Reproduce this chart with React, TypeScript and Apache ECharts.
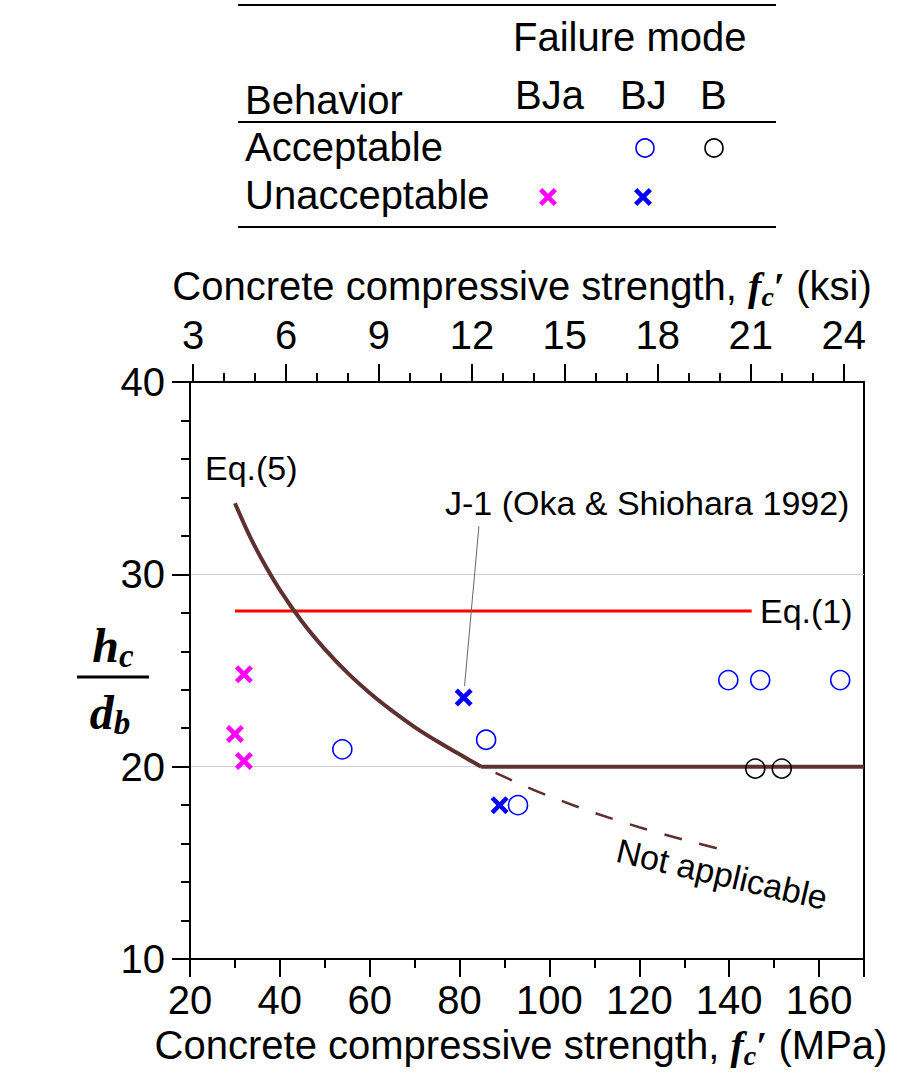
import React, { useEffect, useRef } from 'react';
import * as echarts from 'echarts';

// ---- data ----
const MPA_PER_KSI = 6.895;
const ksiMajorTicks = [3, 6, 9, 12, 15, 18, 21, 24];
const ksiMinorTicks = [3, 4, 5, 6, 7, 8, 9, 10, 11, 12, 13, 14, 15, 16, 17, 18, 19, 20, 21, 22, 23, 24];

const bjaUnacceptable = [[30.0, 21.7], [32.0, 24.8], [32.0, 20.3]];
const bjUnacceptable = [[80.9, 23.6], [88.9, 18.0]];
const bjAcceptable = [[53.9, 20.9], [85.9, 21.4], [93.0, 18.0], [139.8, 24.5], [146.9, 24.5], [164.7, 24.5]];
const bAcceptable = [[145.8, 19.9], [151.7, 19.9]];

const eq5Curve = [
  [30, 33.7], [33, 32.13], [36, 30.77], [40, 29.19], [45, 27.52], [50, 26.11], [55, 24.89],
  [60, 23.83], [65, 22.9], [70, 22.06], [75, 21.32], [80, 20.64], [84.8, 20.0],
];
const eq5Plateau = [[84.8, 20.0], [170, 20.0]];
const eq5NotApplicable = [[88, 19.68], [95, 18.94], [100, 18.46], [110, 17.6], [120, 16.85], [130, 16.19], [140.7, 15.56]];
const eq1Line = [[30, 28.1], [145, 28.1]];
const j1Leader = [[84.3, 32.5], [81.1, 24.2]];

const SANS = '"Liberation Sans", Arial, Helvetica, sans-serif';
const SERIF = '"Liberation Serif", "Times New Roman", serif';
const BROWN = '#5e3030';
const X_PATH = 'path://M1.8,0L5,3.2L8.2,0L10,1.8L6.8,5L10,8.2L8.2,10L5,6.8L1.8,10L0,8.2L3.2,5L0,1.8Z';

function xPolygon(cx: number, cy: number, s: number) {
  const pts = [[1.8, 0], [5, 3.2], [8.2, 0], [10, 1.8], [6.8, 5], [10, 8.2], [8.2, 10], [5, 6.8], [1.8, 10], [0, 8.2], [3.2, 5], [0, 1.8]];
  return pts.map(([a, b]) => [cx + (a - 5) * s / 10, cy + (b - 5) * s / 10]);
}

export default function App() {
  const ref = useRef<HTMLDivElement>(null);
  useEffect(() => {
    if (!ref.current) return;
    const chart = echarts.init(ref.current, undefined, { renderer: 'svg' });
    const axisLine = { show: true, lineStyle: { color: '#000', width: 2 } };
    const tickStyle = { color: '#000', width: 2 };
    const labelFont = { fontFamily: SANS, fontSize: 40, color: '#000' };

    const titleRich = {
      n: { fontFamily: SANS, fontSize: 40, color: '#000', lineHeight: 48 },
      f: { fontFamily: SERIF, fontSize: 40, fontWeight: 'bold', fontStyle: 'italic', color: '#000', lineHeight: 48 },
      s: { fontFamily: SERIF, fontSize: 28, fontWeight: 'bold', fontStyle: 'italic', color: '#000', lineHeight: 26, verticalAlign: 'bottom' },
      p: { fontFamily: SERIF, fontSize: 40, fontWeight: 'bold', color: '#000', lineHeight: 48 },
    };
    const fracRich = {
      h: { fontFamily: SERIF, fontSize: 48, fontWeight: 'bold', fontStyle: 'italic', color: '#000', lineHeight: 54 },
      s: { fontFamily: SERIF, fontSize: 33, fontWeight: 'bold', fontStyle: 'italic', color: '#000', lineHeight: 30, verticalAlign: 'bottom' },
    };

    const legendText = (text: string, x: number, y: number) => ({
      type: 'text', x, y,
      style: { text, fontFamily: SANS, fontSize: 40, fill: '#000', textVerticalAlign: 'middle', textAlign: 'left' },
    });
    const note = (text: string, x: number, y: number) => ({
      type: 'text', x, y,
      style: { text, fontFamily: SANS, fontSize: 34, fill: '#000', textVerticalAlign: 'middle', textAlign: 'left' },
    });
    const rule = (y: number) => ({
      type: 'line', shape: { x1: 238, y1: y, x2: 776, y2: y }, style: { stroke: '#000', lineWidth: 2 },
    });

    chart.setOption({
      animation: false,
      backgroundColor: '#fff',
      grid: { left: 190, top: 382, width: 674, height: 577, show: true, borderColor: '#000', borderWidth: 2, backgroundColor: 'transparent' },
      xAxis: [
        {
          type: 'value', position: 'bottom', min: 20, max: 170, interval: 20,
          axisLine, axisTick: { show: true, inside: false, length: 18, lineStyle: tickStyle },
          minorTick: { show: true, splitNumber: 2, length: 9, lineStyle: tickStyle },
          axisLabel: { ...labelFont, margin: 21, showMaxLabel: false },
          splitLine: { show: false },
        },
        {
          type: 'value', position: 'top', min: 20 / MPA_PER_KSI, max: 170 / MPA_PER_KSI,
          axisLine, axisTick: { show: true, inside: false, length: 18, lineStyle: tickStyle, customValues: ksiMajorTicks },
          axisLabel: { ...labelFont, margin: 27, customValues: ksiMajorTicks },
          splitLine: { show: false },
        },
        {
          type: 'value', position: 'top', min: 20 / MPA_PER_KSI, max: 170 / MPA_PER_KSI,
          axisLine: { show: false }, axisTick: { show: true, inside: false, length: 9, lineStyle: tickStyle, customValues: ksiMinorTicks },
          axisLabel: { show: false },
          splitLine: { show: false },
        },
      ],
      yAxis: {
        type: 'value', min: 10, max: 40, interval: 10,
        axisLine, axisTick: { show: true, inside: false, length: 18, lineStyle: tickStyle },
        minorTick: { show: true, splitNumber: 5, length: 9, lineStyle: tickStyle },
        axisLabel: { ...labelFont, margin: 25 },
        splitLine: { show: true, lineStyle: { color: '#cfcfcf', width: 1 } },
      },
      series: [
        { type: 'line', data: eq1Line, symbol: 'none', lineStyle: { color: '#ff0000', width: 3 }, z: 2 },
        { type: 'line', data: eq5Curve, symbol: 'none', smooth: 0.3, lineStyle: { color: BROWN, width: 4 }, z: 3 },
        { type: 'line', data: eq5Plateau, symbol: 'none', lineStyle: { color: BROWN, width: 4 }, z: 3 },
        { type: 'line', data: eq5NotApplicable, symbol: 'none', smooth: 0.3, lineStyle: { color: BROWN, width: 2.5, type: [18, 18] }, z: 3 },
        { type: 'line', data: j1Leader, symbol: 'none', lineStyle: { color: '#666', width: 1 }, z: 2 },
        { type: 'scatter', data: bjaUnacceptable, symbol: X_PATH, symbolSize: 18, itemStyle: { color: '#ff00ff', opacity: 1 }, z: 5 },
        { type: 'scatter', data: bjUnacceptable, symbol: X_PATH, symbolSize: 18, itemStyle: { color: '#0000ff', opacity: 1 }, z: 5 },
        { type: 'scatter', data: bjAcceptable, symbol: 'circle', symbolSize: 19, itemStyle: { color: 'rgba(0,0,0,0)', borderColor: '#0000ff', borderWidth: 1.6, opacity: 1 }, z: 5 },
        { type: 'scatter', data: bAcceptable, symbol: 'circle', symbolSize: 19, itemStyle: { color: 'rgba(0,0,0,0)', borderColor: '#000', borderWidth: 1.6, opacity: 1 }, z: 5 },
      ],
      graphic: [
        // legend table
        rule(5), rule(122), rule(227),
        legendText('Failure mode', 513, 37),
        legendText('Behavior', 245, 100),
        legendText('BJa', 515, 95),
        legendText('BJ', 620, 95),
        legendText('B', 700, 95),
        legendText('Acceptable', 245, 147),
        legendText('Unacceptable', 245, 195),
        { type: 'circle', shape: { cx: 645, cy: 148, r: 9 }, style: { fill: 'none', stroke: '#0000ff', lineWidth: 1.6 } },
        { type: 'circle', shape: { cx: 714, cy: 148, r: 9 }, style: { fill: 'none', stroke: '#000', lineWidth: 1.6 } },
        { type: 'polygon', shape: { points: xPolygon(548, 197, 18) }, style: { fill: '#ff00ff' } },
        { type: 'polygon', shape: { points: xPolygon(643, 197, 18) }, style: { fill: '#0000ff' } },
        // axis titles
        {
          type: 'text', x: 522, y: 286,
          style: { text: '{n|Concrete compressive strength, }{f|f}{s|c}{p|′}{n| (ksi)}', rich: titleRich, textAlign: 'center', textVerticalAlign: 'middle' },
        },
        {
          type: 'text', x: 521, y: 1045,
          style: { text: '{n|Concrete compressive strength, }{f|f}{s|c}{p|′}{n| (MPa)}', rich: titleRich, textAlign: 'center', textVerticalAlign: 'middle' },
        },
        // y title fraction
        { type: 'text', x: 113, y: 645, style: { text: '{h|h}{s|c}', rich: fracRich, textAlign: 'center', textVerticalAlign: 'middle' } },
        { type: 'line', shape: { x1: 77, y1: 677, x2: 149, y2: 677 }, style: { stroke: '#000', lineWidth: 3 } },
        { type: 'text', x: 110, y: 712, style: { text: '{h|d}{s|b}', rich: fracRich, textAlign: 'center', textVerticalAlign: 'middle' } },
        // annotations
        note('Eq.(5)', 205, 468),
        note('J-1 (Oka & Shiohara 1992)', 445, 503),
        note('Eq.(1)', 760, 611),
        {
          type: 'text', x: 722, y: 874, rotation: -13 * Math.PI / 180,
          style: { text: 'Not applicable', fontFamily: SANS, fontSize: 34, fill: '#000', textAlign: 'center', textVerticalAlign: 'middle' },
        },
      ],
    });
    return () => chart.dispose();
  }, []);
  return <div ref={ref} style={{ position: 'absolute', left: 0, top: 0, width: 898, height: 1087 }} />;
}
